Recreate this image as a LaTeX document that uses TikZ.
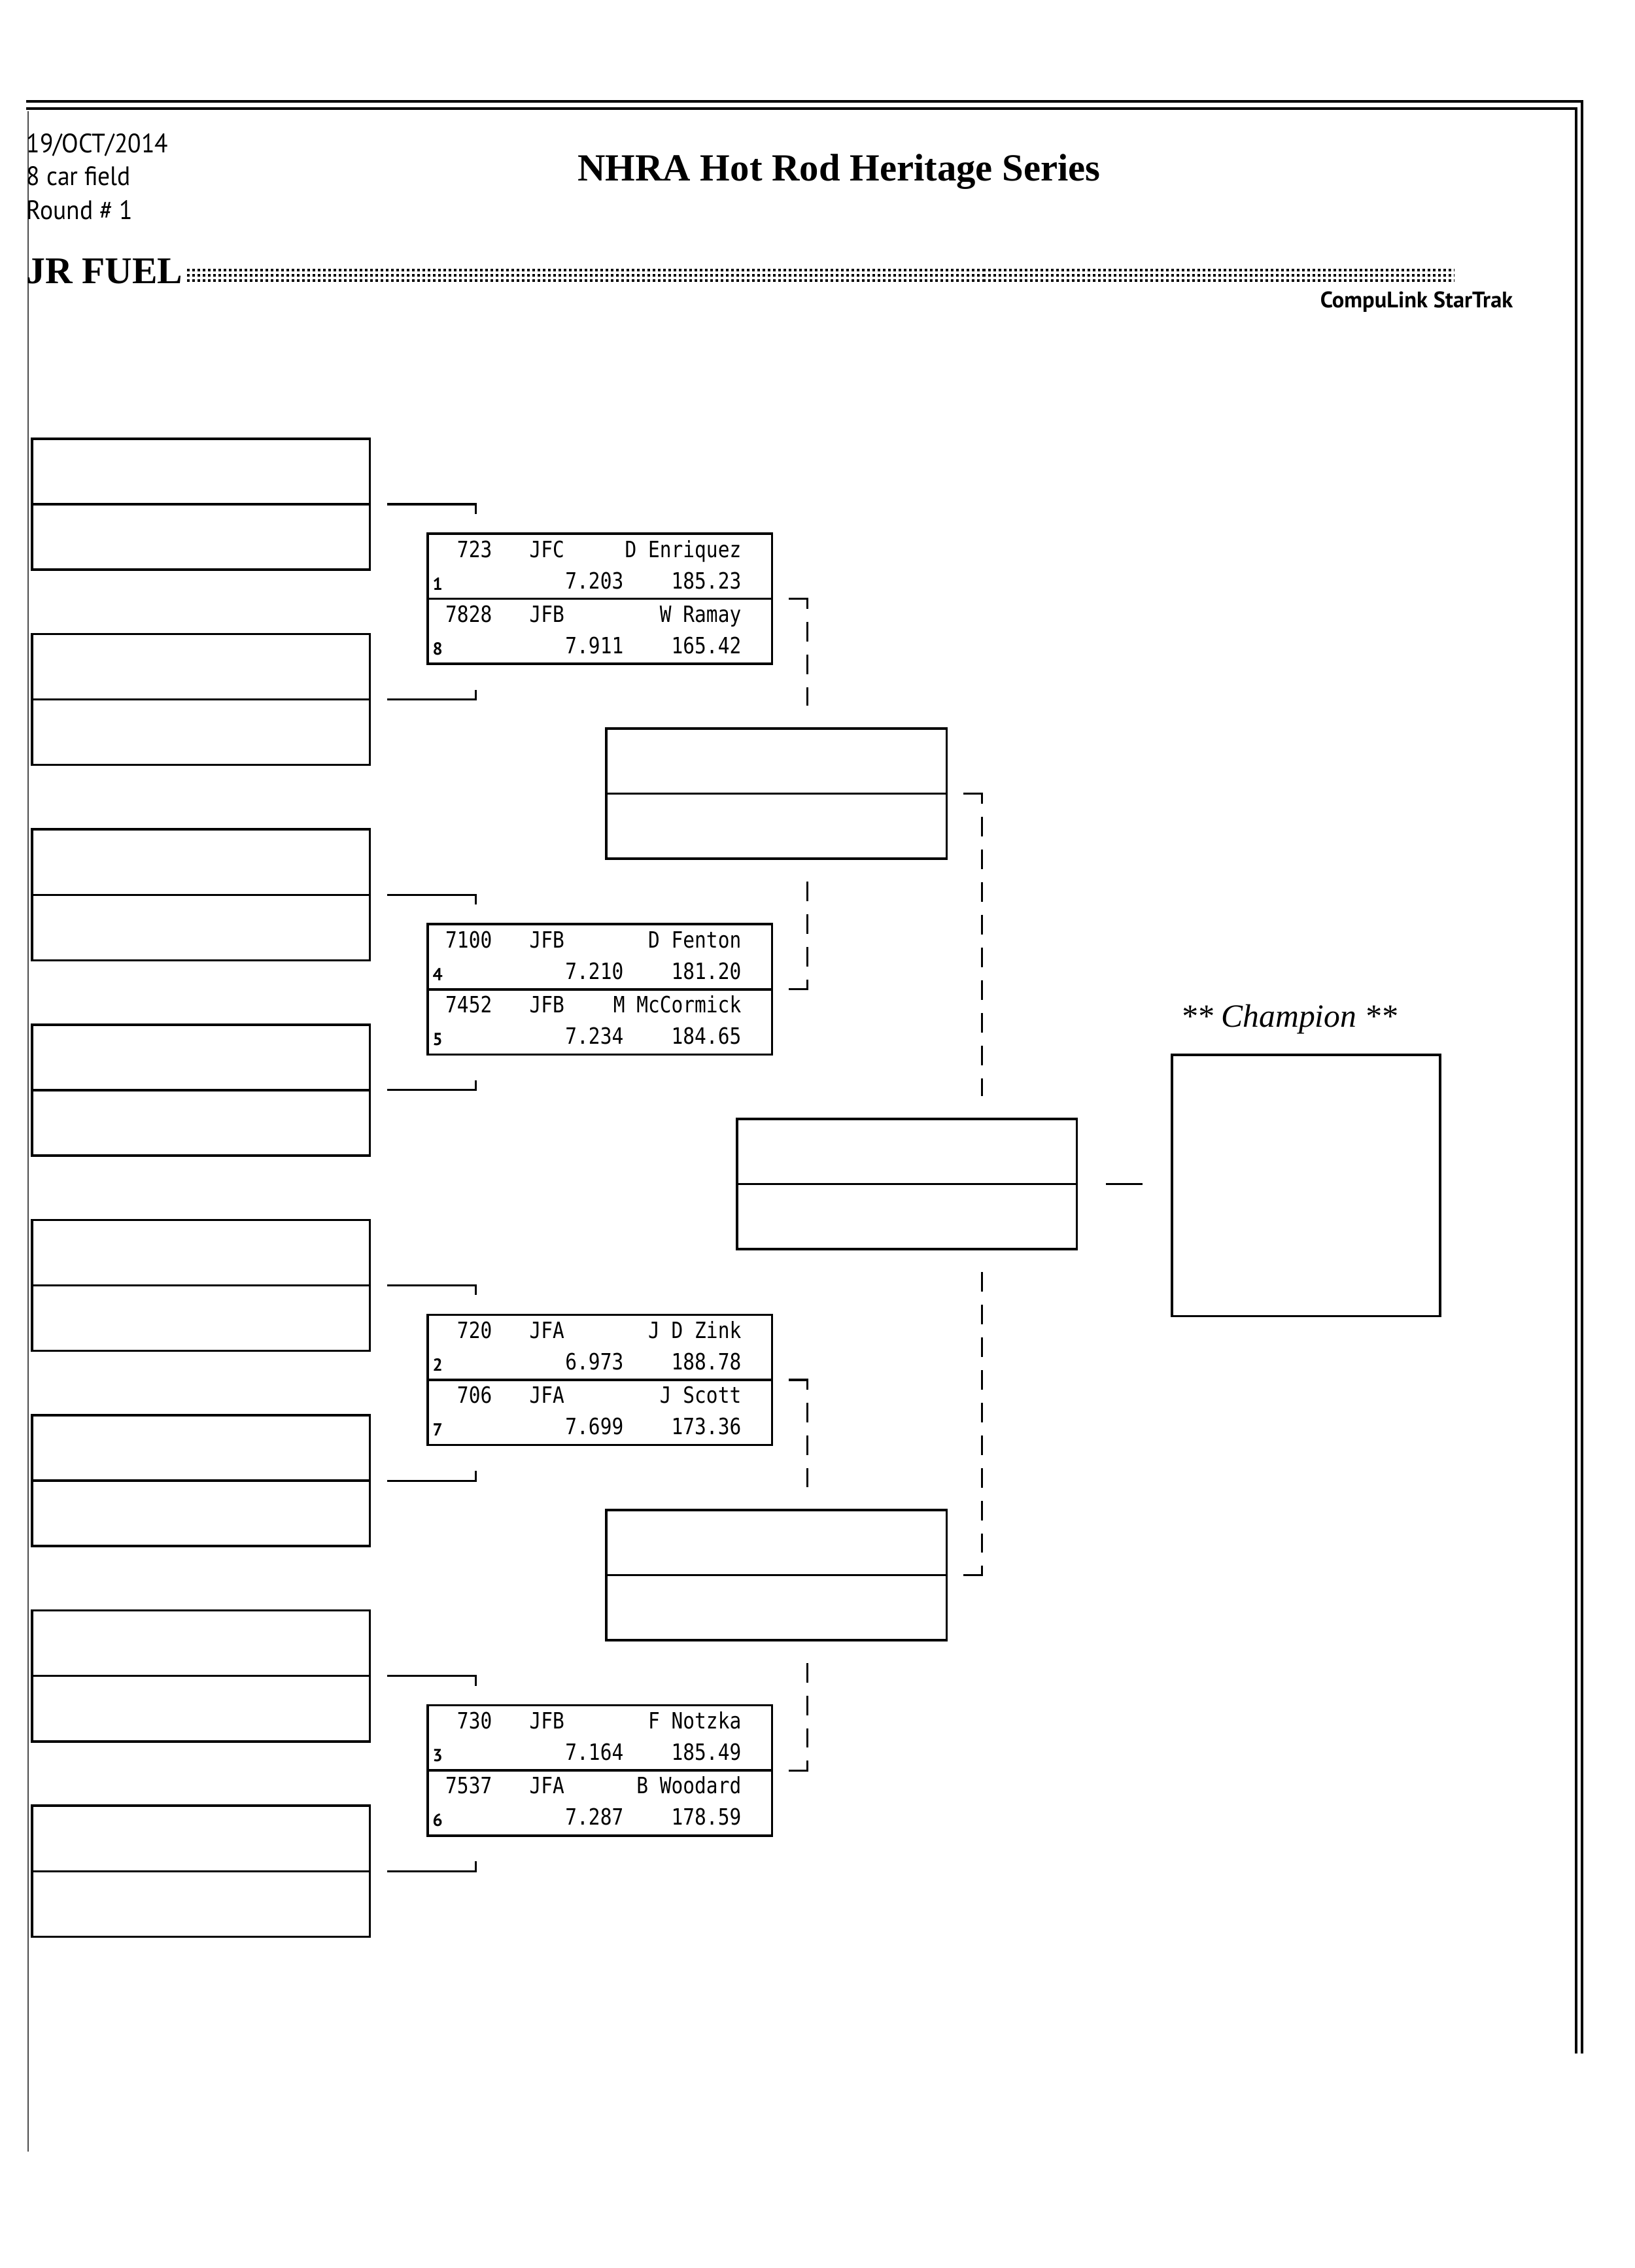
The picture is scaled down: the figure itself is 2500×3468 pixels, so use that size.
\documentclass[tikz,border=0pt]{standalone}
\usepackage{fontspec}
\setmainfont{Liberation Serif}
\newfontfamily\datafont[FakeStretch=0.86]{DejaVu Sans Mono}
\newfontfamily\hdrfont{PT Sans}
\newfontfamily\hdrnarrow[FakeStretch=0.92]{PT Sans}
\usetikzlibrary{calc}
\newcommand{\racer}[8]{%
  \node[dat,anchor=base east] at ($(#1.north west)+(99,#2+36)$) {#3};
  \node[dat,anchor=base west] at ($(#1.north west)+(155,#2+36)$) {#4};
  \node[dat,anchor=base east] at ($(#1.north west)+(480,#2+36)$) {#5};
  \node[seed] at ($(#1.north west)+(7,#2+86)$) {#6};
  \node[dat,anchor=base east] at ($(#1.north west)+(300,#2+84)$) {#7};
  \node[dat,anchor=base east] at ($(#1.north west)+(480,#2+84)$) {#8};
}
\begin{document}
\begin{tikzpicture}[x=0.01cm,y=-0.01cm,
  box/.style={draw,line width=1pt,inner sep=0pt,outer sep=0pt,anchor=north west,rectangle},
  lbox/.style={box,minimum width=5.16cm,minimum height=2cm},
  ronebox/.style={box,minimum width=5.26cm,minimum height=1.99cm},
  rtwobox/.style={box,minimum width=5.2cm,minimum height=1.99cm},
  conn/.style={line width=0.9pt},
  dline/.style={line width=0.9pt,dash pattern=on 0.3cm off 0.2cm},
  dat/.style={inner sep=0pt,font=\datafont\fontsize{9.76}{11}\selectfont},
  seed/.style={inner sep=0pt,anchor=base west,font=\hdrfont\bfseries\fontsize{7.6}{8}\selectfont},
  hdr/.style={inner sep=0pt,anchor=base west,font=\hdrnarrow\fontsize{11.6}{13}\selectfont},
]
\useasboundingbox[fill=white] (0,0) rectangle (2500,3468);

% page frame
\draw[line width=1.2pt] (40,155) -- (2419,155) -- (2419,3140);
\draw[line width=1.1pt] (40,166) -- (2410,166) -- (2410,3140);
\draw[line width=0.5pt,black!70] (43,170) -- (43,3290);

% header
\node[hdr] (date) at (40,233) {19/OCT/2014};
\node[hdr] (field) at (40,283) {8 car field};
\node[hdr] (round) at (40,335) {Round \# 1};
\node[inner sep=0pt,anchor=base,font=\bfseries\fontsize{16.7}{20}\selectfont] (title) at (1283,276) {NHRA Hot Rod Heritage Series};
\node[inner sep=0pt,anchor=base west,font=\bfseries\fontsize{16.4}{20}\selectfont] (jr) at (40,433) {JR FUEL};
\foreach \yy in {413,421,429}
  \draw[line width=0.045cm,dash pattern=on 0.04cm off 0.04cm] (286,\yy) -- (2224,\yy);
\node[inner sep=0pt,anchor=base east,font=\hdrfont\bfseries\fontsize{9.8}{11}\selectfont] (clink) at (2314,470) {CompuLink StarTrak};

% left (empty) boxes
\foreach \i in {1,...,8} {
  \node[lbox] (lb\i) at (49,{671+(\i-1)*298.6}) {};
  \draw[line width=1pt] (lb\i.west) -- (lb\i.east);
}
\foreach \i in {1,3,5,7}
  \draw[conn] ($(lb\i.east)+(27,0)$) -- ++(135,0) -- ++(0,15);
\foreach \i in {2,4,6,8}
  \draw[conn] ($(lb\i.east)+(27,0)$) -- ++(135,0) -- ++(0,-15);

% round 1 boxes
\foreach \j in {1,...,4} {
  \node[ronebox] (ra\j) at (654,{816+(\j-1)*597.2}) {};
  \draw[line width=1pt] (ra\j.west) -- (ra\j.east);
}
% round 2 boxes
\node[rtwobox] (rb1) at (927,1114) {};
\node[rtwobox] (rb2) at (927,2309) {};
\draw[line width=1pt] (rb1.west) -- (rb1.east);
\draw[line width=1pt] (rb2.west) -- (rb2.east);
% final
\node[box,minimum width=5.19cm,minimum height=1.99cm] (fin) at (1127,1711) {};
\draw[line width=1pt] (fin.west) -- (fin.east);
% champion
\node[inner sep=0pt,anchor=base,font=\itshape\fontsize{14.1}{17}\selectfont] (chl) at (1971,1570) {** Champion **};
\node[box,minimum width=4.1cm,minimum height=3.99cm] (champ) at (1792,1613) {};

% round 1 -> round 2 brackets
\foreach \a/\b/\g in {ra1/ra2/rb1, ra3/ra4/rb2} {
  \coordinate (t) at ($(\a.east)+(54,0)$);
  \coordinate (u) at ($(\b.east)+(54,0)$);
  \draw[conn] ($(\a.east)+(26,0)$) -- (t) -- ++(0,15);
  \draw[dline] ($(t)+(0,35)$) -- ($(t |- \g.north)+(0,-35)$);
  \draw[dline] ($(t |- \g.south)+(0,35)$) -- ($(u)+(0,-35)$);
  \draw[conn] ($(u)+(0,-15)$) -- (u) -- ++(-28,0);
}
% round 2 -> final bracket
\coordinate (t2) at ($(rb1.east)+(54,0)$);
\coordinate (u2) at ($(rb2.east)+(54,0)$);
\draw[conn] ($(rb1.east)+(26,0)$) -- (t2) -- ++(0,15);
\draw[dline] ($(t2)+(0,35)$) -- ($(t2 |- fin.north)+(0,-35)$);
\draw[dline] ($(t2 |- fin.south)+(0,35)$) -- ($(u2)+(0,-35)$);
\draw[conn] ($(u2)+(0,-15)$) -- (u2) -- ++(-28,0);
% final -> champion
\draw[conn] ($(fin.east)+(45,0)$) -- ($(champ.west |- fin.east)+(-45,0)$);

% data
\racer{ra1}{0}{723}{JFC}{D Enriquez}{1}{7.203}{185.23}
\racer{ra1}{99}{7828}{JFB}{W Ramay}{8}{7.911}{165.42}
\racer{ra2}{0}{7100}{JFB}{D Fenton}{4}{7.210}{181.20}
\racer{ra2}{99}{7452}{JFB}{M McCormick}{5}{7.234}{184.65}
\racer{ra3}{0}{720}{JFA}{J D Zink}{2}{6.973}{188.78}
\racer{ra3}{99}{706}{JFA}{J Scott}{7}{7.699}{173.36}
\racer{ra4}{0}{730}{JFB}{F Notzka}{3}{7.164}{185.49}
\racer{ra4}{99}{7537}{JFA}{B Woodard}{6}{7.287}{178.59}
\end{tikzpicture}
\end{document}
